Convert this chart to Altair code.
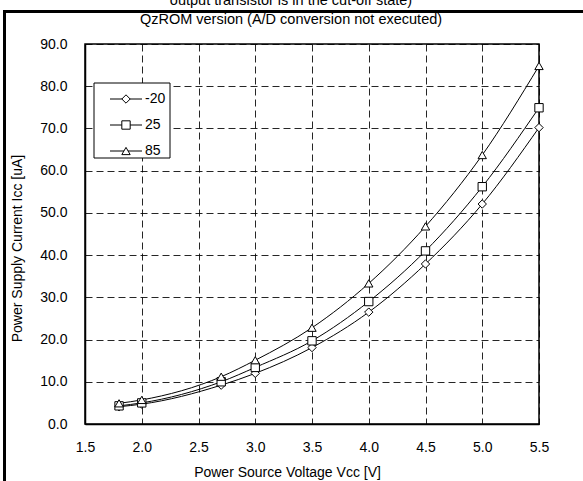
import altair as alt
import pandas as pd

# ---- data ----
vcc = [1.8, 2.0, 2.7, 3.0, 3.5, 4.0, 4.5, 5.0, 5.5]
icc_m20 = [4.1, 4.7, 9.2, 12.0, 18.1, 26.5, 37.9, 52.1, 70.2]
icc_25 = [4.3, 5.0, 10.0, 13.4, 19.7, 29.0, 41.0, 56.2, 74.9]
icc_85 = [4.9, 5.7, 11.2, 15.1, 22.8, 33.3, 46.8, 63.7, 84.8]
series_names = ["-20", "25", "85"]
series_shapes = ["diamond", "square", "triangle-up"]
x_ticks = [1.5, 2.0, 2.5, 3.0, 3.5, 4.0, 4.5, 5.0, 5.5]
y_ticks = [0, 10, 20, 30, 40, 50, 60, 70, 80, 90]
title_lines = ["output transistor is in the cut-off state)",
               "QzROM version (A/D conversion not executed)"]
x_title = "Power Source Voltage Vcc [V]"
y_title = "Power Supply Current Icc [uA]"

rows = []
for name, vals in zip(series_names, [icc_m20, icc_25, icc_85]):
    for xv, yv in zip(vcc, vals):
        rows.append({"series": name, "vcc": xv, "icc": yv})
df = pd.DataFrame(rows)

FONT = "Liberation Sans"
W, H = 454, 380
PAD = {"left": 85, "top": 44, "right": 44, "bottom": 57}

shape_scale = alt.Scale(domain=series_names, range=series_shapes)

xenc = alt.X("vcc:Q", scale=alt.Scale(domain=[1.5, 5.5], nice=False, zero=False),
             axis=alt.Axis(values=x_ticks, format=".1f", title=x_title, ticks=False,
                           labelPadding=16, labelFlush=False, titleX=202, titleY=52,
                           titleBaseline="alphabetic", titleFontSize=14,
                           titleFontWeight="normal"))
yenc = alt.Y("icc:Q", scale=alt.Scale(domain=[0, 90], nice=False),
             axis=alt.Axis(values=y_ticks, format=".1f", title=y_title, ticks=False,
                           labelPadding=18, labelFlush=False, titleX=-64, titleY=204,
                           titleBaseline="alphabetic", titleFontSize=14,
                           titleFontWeight="normal"))

lines = alt.Chart(df).mark_line(color="black", strokeWidth=1, interpolate="monotone").encode(
    x=xenc, y=yenc, detail="series:N")
points = alt.Chart(df).mark_point(filled=False, fill="white", fillOpacity=1, stroke="black",
                                  strokeWidth=1, size=70, opacity=1).encode(
    x="vcc:Q", y="icc:Q", shape=alt.Shape("series:N", scale=shape_scale, legend=None))

# ---- manual legend ----
leg = pd.DataFrame({"series": series_names, "i": list(range(len(series_names)))})
leg["py"] = 55 + leg["i"] * 26
leg_box = alt.Chart(pd.DataFrame({"a": [0]})).mark_rect(
    fill="white", stroke="black", strokeWidth=1).encode(
    x=alt.value(9), x2=alt.value(85), y=alt.value(39), y2=alt.value(114))
leg_line = alt.Chart(leg).mark_rule(color="black", strokeWidth=1).encode(
    x=alt.value(25), x2=alt.value(57), y=alt.Y("py:Q", scale=None))
leg_pt = alt.Chart(leg).mark_point(filled=False, fill="white", fillOpacity=1, stroke="black",
                                   strokeWidth=1, size=70, opacity=1).encode(
    x=alt.value(41), y=alt.Y("py:Q", scale=None),
    shape=alt.Shape("series:N", scale=shape_scale, legend=None))
leg_txt = alt.Chart(leg).mark_text(align="left", baseline="middle", font=FONT,
                                   fontSize=14, color="black").encode(
    x=alt.value(60), y=alt.Y("py:Q", scale=None), text="series:N")

# ---- outer frame and titles ----
frame = alt.Chart(pd.DataFrame({"a": [0]})).mark_rect(
    fill=None, stroke="black", strokeWidth=3).encode(
    x=alt.value(-80.5), y=alt.value(-32.5), x2=alt.value(620), y2=alt.value(520))
t1 = alt.Chart(pd.DataFrame({"a": [0]})).mark_text(
    text=title_lines[0], font=FONT, fontSize=14.5, align="center", baseline="alphabetic",
    color="black").encode(x=alt.value(206), y=alt.value(-39))
t2 = alt.Chart(pd.DataFrame({"a": [0]})).mark_text(
    text=title_lines[1], font=FONT, fontSize=14.5, align="center", baseline="alphabetic",
    color="black").encode(x=alt.value(206), y=alt.value(-20))

chart = alt.layer(frame, t1, t2, lines, points, leg_box, leg_line, leg_pt, leg_txt).properties(
    width=W, height=H, padding=PAD,
    autosize=alt.AutoSizeParams(type="none"),
    background="white",
).configure_view(stroke="black", strokeWidth=1.5).configure_axis(
    labelFont=FONT, titleFont=FONT, labelFontSize=14, labelColor="black",
    titleColor="black", domainColor="black", domainWidth=1.5,
    gridColor="black", gridDash=[7, 4], gridWidth=1, gridOpacity=0.85,
).configure_text(font=FONT)

chart.save("out.html", embed_options={"renderer": "svg", "actions": False})
